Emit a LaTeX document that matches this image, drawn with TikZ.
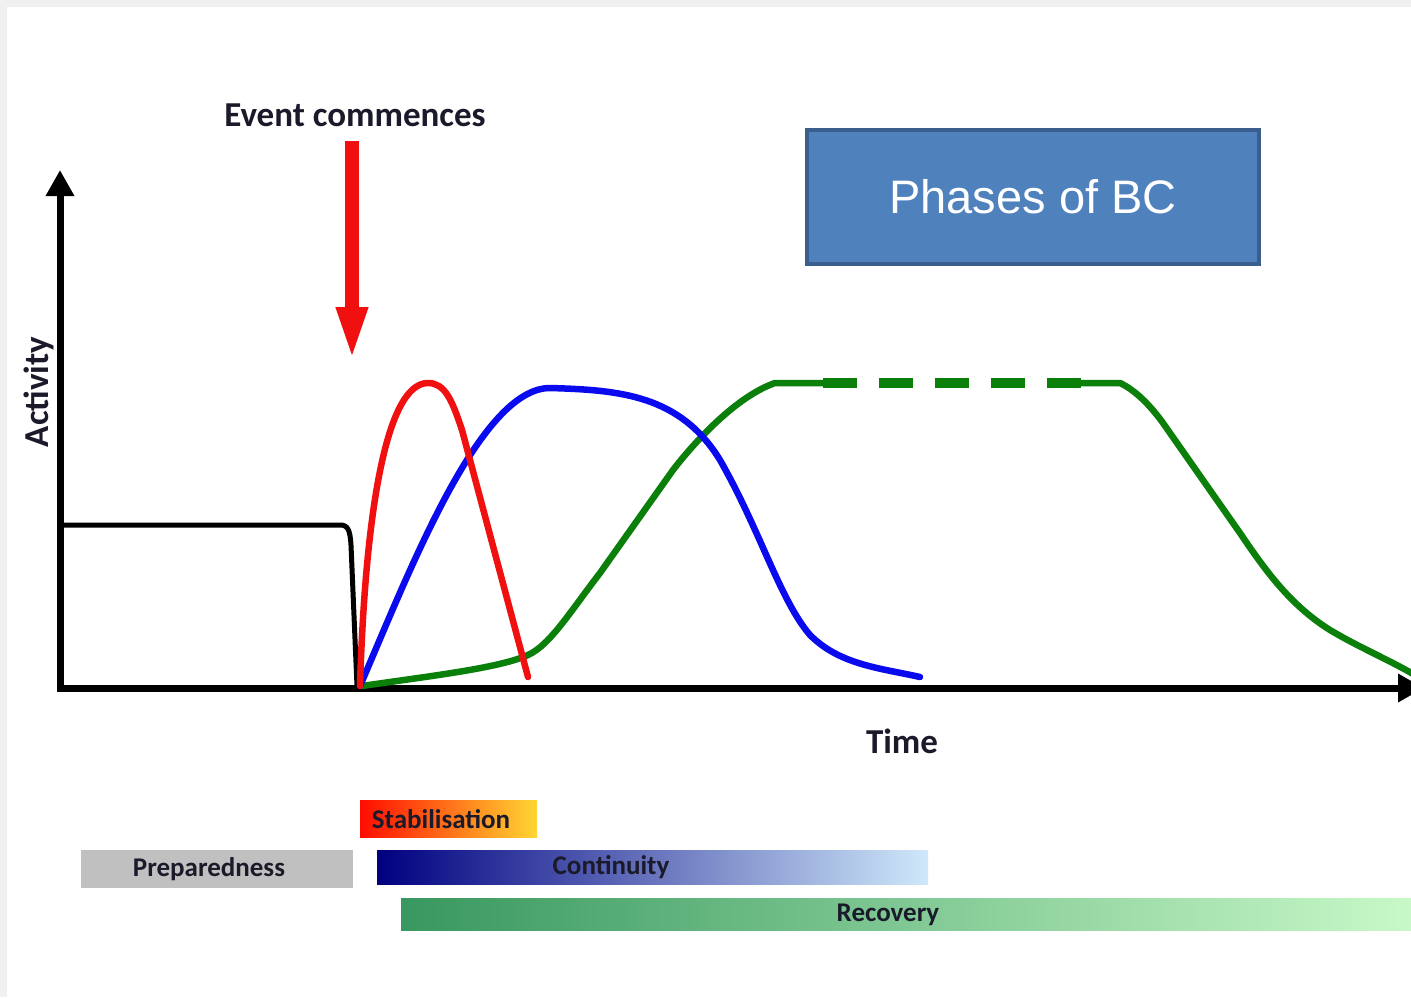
\documentclass[tikz,border=0pt]{standalone}
\usepackage{fontspec}
\setmainfont{Carlito}
\newfontfamily\arialfont{Liberation Sans}
\usetikzlibrary{arrows.meta}
\definecolor{bgframe}{HTML}{F0F0F0}
\definecolor{bcblue}{HTML}{4F81BD}
\definecolor{bcborder}{HTML}{3A5F8C}
\definecolor{txtdark}{HTML}{1A1A2A}
\definecolor{cred}{HTML}{F01010}
\definecolor{cblue}{HTML}{0A0AEE}
\definecolor{cgreen}{HTML}{0A7F0A}
\definecolor{prepgray}{HTML}{C0C0C0}
\tikzset{
  axislabel/.style={font=\fontsize{35}{40}\selectfont\bfseries, text=txtdark, inner sep=0pt},
  bartext/.style={font=\fontsize{27}{32}\selectfont\bfseries, text=txtdark, inner sep=0pt},
  barbox/.style={draw=none, inner sep=0pt, minimum height=#1},
  curve/.style={line width=6.5pt, line cap=round, line join=round},
}
\begin{document}
\begin{tikzpicture}[x=1pt,y=-1pt]
\useasboundingbox (0,0) rectangle (1411,997);
\clip (0,0) rectangle (1411,997);
\fill[bgframe] (0,0) rectangle (1411,997);
\fill[white] (7,7) rectangle (1411,997);

% title box
\node[draw=bcborder, fill=bcblue, line width=4pt, minimum width=452pt, minimum height=134pt,
      text=white, font=\arialfont\fontsize{47}{56}\selectfont] (title) at (1033,197) {Phases of BC};

% event label and arrow
\node[axislabel] (event) at (355,115) {Event commences};
\coordinate (evtop) at (352,141);
\coordinate (evtip) at (352,362);
\draw[cred, line width=14pt, -{Triangle[length=55pt,width=28pt]}] (evtop) -- (evtip);

% axes
\coordinate (ytip) at (60,170);
\coordinate (origin) at (60,688);
\coordinate (xtip) at (1424,688);
\draw[line width=7pt, line join=miter, {Triangle[length=26pt,width=27pt]}-{Triangle[length=26pt,width=27pt]}]
  (ytip) -- (origin) -- (xtip);
\node[axislabel, rotate=90] (activity) at (39,392) {Activity};
\node[axislabel] (time) at (902,741) {Time};

% preparedness level (black)
\draw[line width=5pt, line join=round] (60,525) -- (340,525) .. controls (348,525) and (350,530) .. (351,545) -- (357,686);

% green (recovery)
\draw[cgreen, curve] (362,686) .. controls (430,676) and (500,668) .. (528,655)
   .. controls (550,645) and (570,612) .. (600,573) -- (673,470)
   .. controls (700,435) and (740,395) .. (775,383) -- (825,383);
\draw[cgreen, line width=10.5pt, dash pattern=on 34pt off 22pt] (823,383) -- (1081,383);
\draw[cgreen, curve] (1075,383) -- (1120,383)
   .. controls (1135,390) and (1150,405) .. (1163,423) -- (1240,533)
   .. controls (1265,570) and (1290,605) .. (1330,630)
   .. controls (1360,648) and (1390,660) .. (1420,678);

% blue (continuity)
\draw[cblue, curve] (360,686) .. controls (410,570) and (480,388) .. (550,388)
   .. controls (620,390) and (680,395) .. (720,460)
   .. controls (760,530) and (780,600) .. (810,635)
   .. controls (840,665) and (880,668) .. (920,677);

% red (stabilisation)
\draw[cred, curve] (360,686) .. controls (365,520) and (385,383) .. (428,383)
   .. controls (445,383) and (452,400) .. (462,430) -- (528,677);

% phase bars
\node[barbox=37pt, minimum width=177pt, left color=red!90!orange, right color=orange!40!yellow!80!white] (stabbar) at (448.5,818.5) {};
\node[barbox=38pt, minimum width=272pt, fill=prepgray] (prepbar) at (217,868.5) {};
\node[barbox=34pt, minimum width=551pt, left color=blue!50!black, middle color={rgb,255:red,140;green,165;blue,214}, right color={rgb,255:red,207;green,232;blue,250}] (contbar) at (652.5,867) {};
\node[barbox=32pt, minimum width=1010pt, left color={rgb,255:red,56;green,152;blue,95}, middle color={rgb,255:red,150;green,214;blue,158}, right color={rgb,255:red,200;green,248;blue,200}] (recbar) at (906,914) {};

\node[bartext] (stabt) at (441,819) {Stabilisation};
\node[bartext] (prept) at (209,869) {Preparedness};
\node[bartext] (contt) at (611,867) {Continuity};
\node[bartext] (rect) at (888,915) {Recovery};
\end{tikzpicture}
\end{document}
